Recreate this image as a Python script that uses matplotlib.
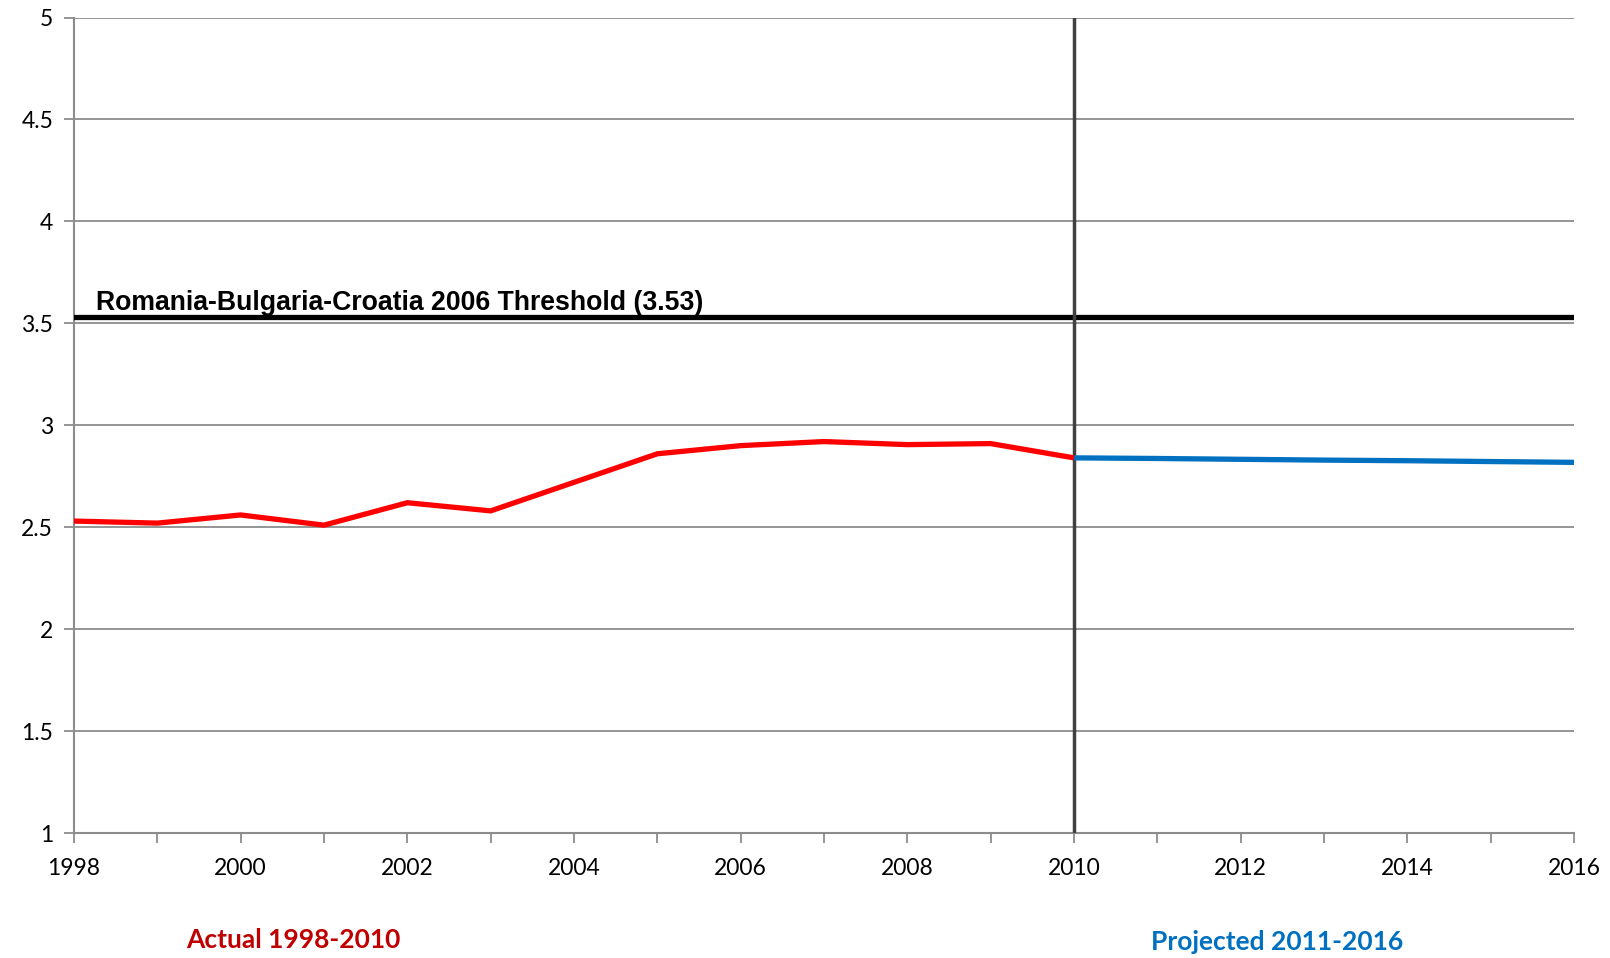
import matplotlib
matplotlib.use("Agg")
import matplotlib.pyplot as plt

# Actual series 1998-2010
actual_years = [1998, 1999, 2000, 2001, 2002, 2003, 2004, 2005, 2006, 2007, 2008, 2009, 2010]
actual_values = [2.53, 2.52, 2.56, 2.51, 2.62, 2.58, 2.72, 2.86, 2.90, 2.92, 2.905, 2.91, 2.84]

# Projected series 2010-2016
projected_years = [2010, 2011, 2012, 2013, 2014, 2015, 2016]
projected_values = [2.84, 2.837, 2.833, 2.829, 2.826, 2.822, 2.818]

threshold = 3.53
threshold_label = "Romania-Bulgaria-Croatia 2006 Threshold (3.53)"
split_year = 2010

x_ticks = [1998, 2000, 2002, 2004, 2006, 2008, 2010, 2012, 2014, 2016]
y_ticks = [1, 1.5, 2, 2.5, 3, 3.5, 4, 4.5, 5]
y_tick_labels = ["1", "1.5", "2", "2.5", "3", "3.5", "4", "4.5", "5"]

tick_font = ["Lato", "DejaVu Sans"]

fig = plt.figure(figsize=(16.1, 9.58), dpi=100)
ax = fig.add_axes([74 / 1610, 125 / 958, 1500 / 1610, 815.5 / 958])

ax.set_xlim(1998, 2016)
ax.set_ylim(1, 5)

ax.set_yticks(y_ticks)
ax.set_yticklabels(y_tick_labels)
ax.set_xticks(x_ticks)
ax.set_xticks(range(1998, 2017), minor=True)

ax.grid(axis="y", color="#8c8c8c", linewidth=1.3, zorder=1)
for side in ("top", "right"):
    ax.spines[side].set_visible(False)
for side in ("left", "bottom"):
    ax.spines[side].set_color("#8c8c8c")
    ax.spines[side].set_linewidth(1.5)

ax.tick_params(axis="both", which="both", direction="out", color="#8c8c8c",
               width=1.3, length=7)
ax.tick_params(axis="x", which="major", pad=11)
ax.tick_params(axis="y", pad=8)
for lbl in ax.get_xticklabels() + ax.get_yticklabels():
    lbl.set_fontfamily(tick_font)
    lbl.set_fontsize(16.5)
    lbl.set_color("black")

# Threshold line and its label
ax.axhline(threshold, color="black", linewidth=3.8, zorder=3)
ax.text(1998.27, threshold + 0.008, threshold_label, fontsize=19.2, fontweight="bold",
        family=["Liberation Sans", "DejaVu Sans"], ha="left", va="bottom", zorder=4)

# Divider between actual and projected values
ax.axvline(split_year, color="#404040", linewidth=2.5, zorder=4)

ax.plot(projected_years, projected_values, color="#0070C0", linewidth=3.8,
        solid_capstyle="butt", zorder=5)
ax.plot(actual_years, actual_values, color="#FF0000", linewidth=3.8,
        solid_joinstyle="miter", solid_capstyle="butt", zorder=6)

fig.text(293 / 1610, 1 - 940 / 958, "Actual 1998-2010", color="#C00000",
         fontsize=19, fontweight="bold", family=tick_font, ha="center", va="center")
fig.text(1277 / 1610, 1 - 942 / 958, "Projected 2011-2016", color="#0070C0",
         fontsize=19, fontweight="bold", family=tick_font, ha="center", va="center")

fig.savefig("out.png", dpi=100)
